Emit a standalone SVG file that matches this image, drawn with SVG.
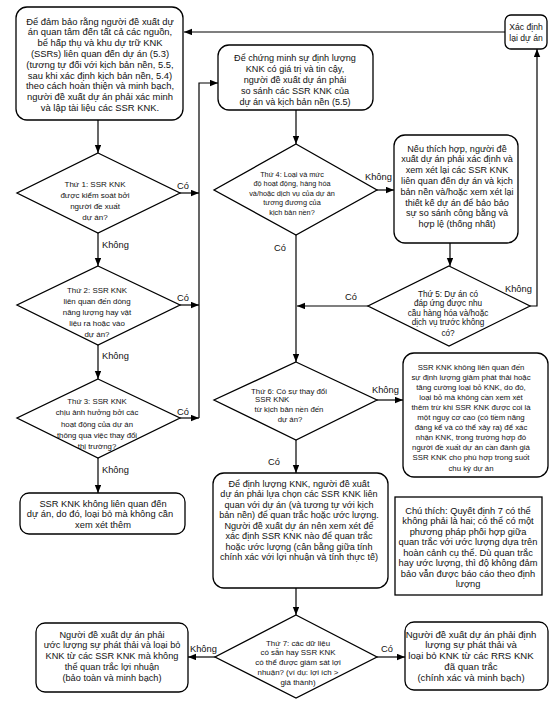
<svg xmlns="http://www.w3.org/2000/svg" width="555" height="706" viewBox="0 0 555 706">
<defs>
<marker id="ah" markerUnits="userSpaceOnUse" markerWidth="9" markerHeight="7" refX="8" refY="3.2" orient="auto">
<path d="M0,0 L8,3.2 L0,6.4 z" fill="#000"/>
</marker>
</defs>
<style>
.b{fill:#fff;stroke:#000;stroke-width:1.3}
.c{fill:none;stroke:#000;stroke-width:1.2;marker-end:url(#ah)}
.l{fill:none;stroke:#000;stroke-width:1.2}
text{font-family:"Liberation Sans",Arial,sans-serif;fill:#111;text-anchor:middle}
.lb{font-size:9.3px;text-anchor:start}
</style>
<rect width="555" height="706" fill="#fff"/>

<g id="connectors">
<path class="c" d="M505,32 H184"/>
<path class="c" d="M98,120 V153"/>
<path class="c" d="M180,193 H199"/>
<path class="c" d="M98,233 V266"/>
<path class="c" d="M180,305 H199"/>
<path class="c" d="M98,345 V379"/>
<path class="c" d="M180,418 H199"/>
<path class="c" d="M98,458 V493"/>
<path class="c" d="M199,418 V83 H218"/>
<path class="c" d="M296,110 V144"/>
<path class="c" d="M377,190 H394"/>
<path class="c" d="M296,235 V362"/>
<path class="c" d="M450,243 V266"/>
<path class="c" d="M368,306 H297"/>
<path class="c" d="M530,306 H537 V49"/>
<path class="c" d="M377,400 H403"/>
<path class="c" d="M296,440 V473"/>
<path class="c" d="M296,588 V615"/>
<path class="c" d="M215,657 H188"/>
<path class="c" d="M377,657 H405"/>
<text class="lb" x="177" y="189">Có</text>
<text class="lb" x="102" y="248">Không</text>
<text class="lb" x="177" y="301">Có</text>
<text class="lb" x="102" y="359">Không</text>
<text class="lb" x="177" y="415">Có</text>
<text class="lb" x="102" y="473">Không</text>
<text class="lb" x="365" y="180">Không</text>
<text class="lb" x="274" y="251">Có</text>
<text class="lb" x="345" y="300">Có</text>
<text class="lb" x="505" y="292">Không</text>
<text class="lb" x="372" y="393">Không</text>
<text class="lb" x="268" y="465">Có</text>
<text class="lb" x="190" y="652">Không</text>
<text class="lb" x="381" y="652">Có</text>
</g>

<g id="box1">
<rect class="b" x="16" y="7" width="167" height="113" rx="11"/>
<g font-size="9.4px">
<text x="100" y="24.5">Để đảm bảo rằng người đề xuất dự</text>
<text x="100" y="35.3">án quan tâm đến tất cả các nguồn,</text>
<text x="100" y="46.1">bể hấp thụ và khu dự trữ KNK</text>
<text x="100" y="56.9">(SSRs) liên quan đến dự án (5.3)</text>
<text x="100" y="67.7">(tương tự đối với kịch bản nền, 5.5,</text>
<text x="100" y="78.5">sau khi xác định kịch bản nền, 5.4)</text>
<text x="100" y="89.3">theo cách hoàn thiện và minh bạch,</text>
<text x="100" y="100.1">người đề xuất dự án phải xác minh</text>
<text x="100" y="110.9">và lập tài liệu các SSR KNK.</text>
</g>
</g>

<g id="redefine">
<rect class="b" x="505" y="15" width="42" height="34" rx="6"/>
<text x="526" y="29.5" font-size="8.6px">Xác định</text>
<text x="526" y="40.5" font-size="8.6px">lại dự án</text>
</g>

<g id="box2">
<rect class="b" x="218" y="45" width="155" height="65" rx="11"/>
<g font-size="9.1px">
<text x="295" y="60.5">Để chứng minh sự định lượng</text>
<text x="295" y="71.5">KNK có giá trị và tin cậy,</text>
<text x="295" y="82.5">người đề xuất dự án phải</text>
<text x="295" y="93.5">so sánh các SSR KNK của</text>
<text x="295" y="104.5">dự án và kịch bản nền (5.5)</text>
</g>
</g>

<g id="d1">
<polygon class="b" points="98,153 180,193 98,233 17,193"/>
<g font-size="8px">
<text x="95" y="186.5">Thứ 1: SSR KNK</text>
<text x="95" y="197.5">được kiểm soát bởi</text>
<text x="95" y="208.5">người đề xuất</text>
<text x="95" y="219.5">dự án?</text>
</g>
</g>

<g id="d2">
<polygon class="b" points="98,266 180,305 98,345 17,305"/>
<g font-size="7.9px">
<text x="97" y="292.5">Thứ 2: SSR KNK</text>
<text x="97" y="303.5">liên quan đến dòng</text>
<text x="97" y="314.5">năng lượng hay vật</text>
<text x="97" y="325.5">liệu ra hoặc vào</text>
<text x="97" y="336.5">dự án?</text>
</g>
</g>

<g id="d3">
<polygon class="b" points="98,379 180,418 98,458 17,418"/>
<g font-size="7.8px">
<text x="97" y="403.5">Thứ 3: SSR KNK</text>
<text x="97" y="415">chịu ảnh hưởng bởi các</text>
<text x="97" y="426.5">hoạt động của dự án</text>
<text x="97" y="438">thông qua việc thay đổi</text>
<text x="97" y="449">thị trường?</text>
</g>
</g>

<g id="box8">
<rect class="b" x="20" y="493" width="165" height="41" rx="9"/>
<g font-size="9.3px">
<text x="103" y="506.5">SSR KNK không liên quan đến</text>
<text x="100" y="517">dự án, do đó, loại bỏ mà không cần</text>
<text x="103" y="527.5">xem xét thêm</text>
</g>
</g>

<g id="d4">
<polygon class="b" points="296,144 377,190 296,235 214,190"/>
<g font-size="7.3px">
<text x="292" y="176.5">Thứ 4: Loại và mức</text>
<text x="292" y="186">độ hoạt động, hàng hóa</text>
<text x="292" y="195.5">và/hoặc dịch vụ của dự án</text>
<text x="292" y="205">tương đương của</text>
<text x="292" y="214.5">kịch bản nền?</text>
</g>
</g>

<g id="box3">
<rect class="b" x="394" y="135" width="124" height="108" rx="11"/>
<g font-size="9.1px">
<text x="457" y="151.5">Nếu thích hợp, người đề</text>
<text x="457" y="162.3">xuất dự án phải xác định và</text>
<text x="457" y="173.1">xem xét lại các SSR KNK</text>
<text x="457" y="183.9">liên quan đến dự án và kịch</text>
<text x="457" y="194.7">bản nền và/hoặc xem xét lại</text>
<text x="457" y="205.5">thiết kế dự án để bảo bảo</text>
<text x="457" y="216.3">sự so sánh công bằng và</text>
<text x="457" y="227.1">hợp lệ (thống nhất)</text>
</g>
</g>

<g id="d5">
<polygon class="b" points="449,266 530,306 449,346 368,306"/>
<g font-size="8.2px">
<text x="448" y="296.5">Thứ 5: Dự án có</text>
<text x="448" y="306">đáp ứng được nhu</text>
<text x="448" y="315.5">cầu hàng hóa và/hoặc</text>
<text x="448" y="325">dịch vụ trước không</text>
<text x="448" y="336">có?</text>
</g>
</g>

<g id="d6">
<polygon class="b" points="296,362 377,400 296,440 214,400"/>
<g font-size="7.8px">
<text x="289" y="393.5">Thứ 6: Có sự thay đổi</text>
<text x="255" y="402" style="text-anchor:start">SSR KNK</text>
<text x="289" y="412">từ kịch bản nền đến</text>
<text x="290" y="421.5">dự án?</text>
</g>
</g>

<g id="box4">
<rect class="b" x="403" y="353" width="145" height="124" rx="11"/>
<g font-size="7.8px">
<text x="471" y="369.5">SSR KNK không liên quan đến</text>
<text x="471" y="379.6">sự định lượng giảm phát thải hoặc</text>
<text x="471" y="389.7">tăng cường loại bỏ KNK, do đó,</text>
<text x="471" y="399.8">loại bỏ mà không cần xem xét</text>
<text x="471" y="409.9">thêm trừ khi SSR KNK được coi là</text>
<text x="471" y="420">một nguy cơ cao (có tiềm năng</text>
<text x="471" y="430.1">đáng kể và có thể xảy ra) để xác</text>
<text x="471" y="440.2">nhận KNK, trong trường hợp đó</text>
<text x="471" y="450.3">người đề xuất dự án cần đánh giá</text>
<text x="471" y="460.4">SSR KNK cho phù hợp trong suốt</text>
<text x="471" y="470.5">chu kỳ dự án</text>
</g>
</g>

<g id="box5">
<rect class="b" x="213" y="473" width="175" height="115" rx="11"/>
<g font-size="9.1px">
<text x="299" y="486.5">Để định lượng KNK, người đề xuất</text>
<text x="299" y="497">dự án phải lựa chọn các SSR KNK liên</text>
<text x="299" y="507.5">quan với dự án (và tương tự với kịch</text>
<text x="299" y="518">bản nền) để quan trắc hoặc ước lượng.</text>
<text x="299" y="528.5">Người đề xuất dự án nên xem xét để</text>
<text x="299" y="539">xác định SSR KNK nào để quan trắc</text>
<text x="299" y="549.5">hoặc ước lượng (cân bằng giữa tính</text>
<text x="299" y="560">chính xác với lợi nhuận và tính thực tế)</text>
</g>
</g>

<g id="note">
<rect x="395" y="497" width="147" height="98" fill="#fff" stroke="#000" stroke-width="1.3"/>
<g font-size="9.3px">
<text x="468" y="513.5">Chú thích: Quyết định 7 có thể</text>
<text x="468" y="524">không phải là hai; có thể có một</text>
<text x="468" y="534.5">phương pháp phối hợp giữa</text>
<text x="468" y="545">quan trắc với ước lượng dựa trên</text>
<text x="468" y="555.5">hoàn cảnh cụ thể. Dù quan trắc</text>
<text x="468" y="566">hay ước lượng, thì độ không đảm</text>
<text x="468" y="576.5">bảo vẫn được báo cáo theo định</text>
<text x="468" y="587">lượng</text>
</g>
</g>

<g id="d7">
<polygon class="b" points="296,615 377,657 296,698 215,657"/>
<g font-size="7.9px">
<text x="298" y="645.5">Thứ 7: các dữ liệu</text>
<text x="298" y="655.3">có sẵn hay SSR KNK</text>
<text x="298" y="665.1">có thể được giám sát lợi</text>
<text x="298" y="674.9">nhuận? (ví dụ: lợi ích &gt;</text>
<text x="298" y="684.7">giá thành)</text>
</g>
</g>

<g id="box6">
<rect class="b" x="36" y="623" width="152" height="69" rx="9"/>
<g font-size="9.2px">
<text x="112" y="637.5">Người đề xuất dự án phải</text>
<text x="112" y="648.3">ước lượng sự phát thải và loại bỏ</text>
<text x="112" y="659.1">KNK từ các SSR KNK mà không</text>
<text x="112" y="669.9">thể quan trắc lợi nhuận</text>
<text x="112" y="680.7">(bảo toàn và minh bạch)</text>
</g>
</g>

<g id="box7">
<rect class="b" x="405" y="622" width="143" height="68" rx="9"/>
<g font-size="9.6px">
<text x="471" y="637.5">Người đề xuất dự án phải định</text>
<text x="471" y="648.3">lượng sự phát thải và</text>
<text x="471" y="659.1">loại bỏ KNK từ các RRS KNK</text>
<text x="471" y="669.9">đã quan trắc</text>
<text x="471" y="680.7">(chính xác và minh bạch)</text>
</g>
</g>
</svg>
